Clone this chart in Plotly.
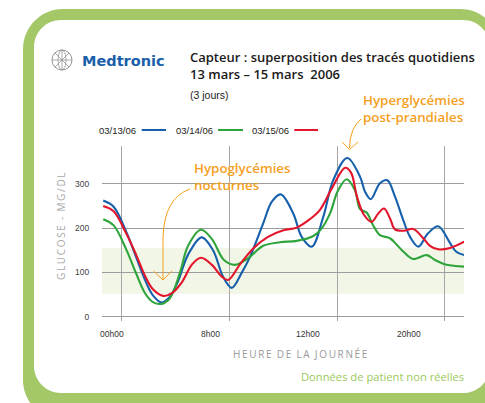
import plotly.graph_objects as go

# ---------------- data ----------------
days = ["03/13/06", "03/14/06", "03/15/06"]
day_colors = ["#1660ab", "#2ea43a", "#e3152b"]

hours_0313 = [-1.03, -0.45, 0.25, 0.80, 1.30, 1.74, 2.23, 2.69, 3.14, 3.70, 4.46, 5.09, 5.65, 6.13,
              6.70, 7.15, 7.89, 8.36, 8.86, 9.56, 10.03, 10.59, 11.23, 11.79, 12.57, 13.28, 13.56,
              13.88, 14.39, 14.80, 15.23, 15.69, 16.07, 16.53, 17.07, 17.64, 18.30, 18.63, 19.09]
glucose_0313 = [262, 248, 192, 135, 83, 48, 32, 45, 80, 140, 179, 150, 90, 65,
                100, 135, 211, 259, 276, 233, 180, 158, 225, 308, 358, 316, 282,
                265, 301, 308, 271, 218, 180, 158, 188, 204, 166, 147, 139]

hours_0314 = [-1.03, -0.45, 0.25, 0.80, 1.30, 1.74, 2.23, 2.69, 3.25, 3.70, 4.42, 5.03, 5.70, 6.31,
              7.04, 7.89, 8.82, 9.75, 10.68, 11.16, 11.61, 12.06, 12.54, 13.00, 13.28, 13.65,
              14.00, 14.39, 14.95, 15.34, 15.69, 16.25, 17.00, 17.46, 18.11, 19.09]
glucose_0314 = [220, 206, 152, 98, 53, 33, 29, 42, 100, 160, 196, 175, 128, 117,
                132, 160, 168, 171, 182, 200, 233, 285, 310, 285, 243, 235,
                207, 184, 177, 162, 147, 130, 139, 128, 117, 113]

hours_0315 = [-1.03, -0.45, 0.25, 0.80, 1.30, 1.74, 2.32, 2.80, 3.36, 3.92, 4.42, 5.03, 5.59, 5.94,
              6.59, 7.33, 8.15, 9.01, 9.75, 10.49, 11.05, 11.72, 12.45, 12.78, 13.11, 13.50,
              13.93, 14.28, 14.62, 14.95, 15.23, 15.73, 16.25, 16.74, 17.18, 17.64, 18.30, 19.09]
glucose_0315 = [250, 238, 188, 140, 92, 62, 47, 53, 78, 118, 133, 117, 90, 83,
                118, 154, 180, 195, 201, 220, 241, 290, 336, 325, 271, 230,
                214, 232, 244, 222, 197, 194, 198, 180, 160, 152, 155, 169]

series_hours = [hours_0313, hours_0314, hours_0315]
series_glucose = [glucose_0313, glucose_0314, glucose_0315]

target_low, target_high = 52, 155
y_tickvals = [0, 100, 200, 300]
x_gridvals = [0, 6, 12, 18]
x_ticklabels = ["00h00", "8h00", "12h00", "20h00"]
x_label_pos = [-0.54, 4.96, 10.38, 16.01]

X_RANGE = [-1.098, 19.076]
Y_RANGE = [-9.7, 385.1]

# ---------------- geometry helpers ----------------
W, H = 485, 403
ML, MR, MT, MB = 102, 21, 146, 82
PW, PH = W - ML - MR, H - MT - MB


def fx(x):
    return (x - ML) / PW


def fy(y):
    return (H - MB - y) / PH


def P(x, y):
    return f"{fx(x):.5f},{fy(y):.5f}"


def rrect(x0, y0, x1, y1, r):
    k = 0.5523 * r
    return (f"M {P(x0 + r, y0)} L {P(x1 - r, y0)} "
            f"C {P(x1 - r + k, y0)} {P(x1, y0 + r - k)} {P(x1, y0 + r)} "
            f"L {P(x1, y1 - r)} "
            f"C {P(x1, y1 - r + k)} {P(x1 - r + k, y1)} {P(x1 - r, y1)} "
            f"L {P(x0 + r, y1)} "
            f"C {P(x0 + r - k, y1)} {P(x0, y1 - r + k)} {P(x0, y1 - r)} "
            f"L {P(x0, y0 + r)} "
            f"C {P(x0, y0 + r - k)} {P(x0 + r - k, y0)} {P(x0 + r, y0)} Z")


fig = go.Figure()

for name, hrs, glu, col in zip(days, series_hours, series_glucose, day_colors):
    fig.add_trace(go.Scatter(x=hrs, y=glu, mode="lines", name=name,
                             line=dict(color=col, width=2.1, shape="spline", smoothing=1.0),
                             showlegend=False, hoverinfo="skip"))

shapes = []
# frame
shapes.append(dict(type="path", xref="paper", yref="paper", layer="below",
                   path=rrect(23, 9, 500, 420, 40), fillcolor="#a4c868", line=dict(width=0)))
shapes.append(dict(type="path", xref="paper", yref="paper", layer="below",
                   path=rrect(34, 20, 490, 393, 27), fillcolor="#ffffff", line=dict(width=0)))
shapes.append(dict(type="path", xref="paper", yref="paper", layer="below",
                   path=f"M {P(440, 46)} L {P(520, 46)} L {P(520, 367)} L {P(440, 367)} Z",
                   fillcolor="#ffffff", line=dict(width=0)))
# target band
shapes.append(dict(type="rect", xref="paper", yref="y", layer="below",
                   x0=0, x1=1, y0=target_low, y1=target_high,
                   fillcolor="#f1f6e6", line=dict(width=0)))

orange = "#f5a01e"
# hypo arrow
shapes.append(dict(type="path", xref="paper", yref="paper",
                   path=f"M {P(190, 189)} Q {P(164, 198)} {P(163, 238)} L {P(163, 279)}",
                   line=dict(color=orange, width=1)))
shapes.append(dict(type="path", xref="paper", yref="paper",
                   path=f"M {P(153.5, 271)} L {P(163, 280)} L {P(172, 271)}",
                   line=dict(color=orange, width=1)))
# hyper arrow
shapes.append(dict(type="path", xref="paper", yref="paper",
                   path=f"M {P(361, 119)} Q {P(350, 128)} {P(349.5, 148)}",
                   line=dict(color=orange, width=1)))
shapes.append(dict(type="path", xref="paper", yref="paper",
                   path=f"M {P(342, 142)} L {P(349.5, 149.5)} L {P(358, 142)}",
                   line=dict(color=orange, width=1)))

# legend line samples
legend_lines = [(141.7, 166), (218, 243), (294.3, 318)]
legend_text_right = [138, 214.5, 291]
for (a, b), col in zip(legend_lines, day_colors):
    shapes.append(dict(type="line", xref="paper", yref="paper",
                       x0=fx(a), x1=fx(b), y0=fy(130), y1=fy(130),
                       line=dict(color=col, width=2)))

# globe logo
gray = "#8a8a8a"
shapes.append(dict(type="circle", xref="paper", yref="paper",
                   x0=fx(52), x1=fx(72), y0=fy(50), y1=fy(70), line=dict(color=gray, width=0.9)))
shapes.append(dict(type="circle", xref="paper", yref="paper",
                   x0=fx(58), x1=fx(66), y0=fy(50), y1=fy(70), line=dict(color=gray, width=0.7)))
shapes.append(dict(type="path", xref="paper", yref="paper",
                   path=f"M {P(52, 60)} L {P(72, 60)} M {P(62, 50)} L {P(62, 70)} "
                        f"M {P(55, 53)} L {P(69, 67)} M {P(55, 67)} L {P(69, 53)}",
                   line=dict(color=gray, width=0.7)))

ann = []


def text(x, y, s, size, color, family, xanchor="left", weight=None, angle=0):
    f = dict(size=size, color=color, family=family)
    if weight is not None:
        f["weight"] = weight
    ann.append(dict(x=fx(x), y=fy(y), xref="paper", yref="paper", text=s, showarrow=False,
                    xanchor=xanchor, yanchor="middle", align="left", font=f, textangle=angle))


sans = "Open Sans"
arial = "Liberation Sans, Arial"

text(80, 61, "Medtronic", 14.5, "#1b5faa", "DejaVu Sans", weight="bold")
text(188, 65.5, "Capteur : superposition des tracés quotidiens<br>13 mars – 15 mars  2006",
     13, "#1a1a1a", sans, weight=600)
text(188, 95, "(3 jours)", 10.5, "#222222", arial)

for d, xr in zip(days, legend_text_right):
    text(xr, 130, d, 9.5, "#222222", arial, xanchor="right")

text(361, 108, "Hyperglycémies<br>post-prandiales", 13.3, orange, sans, weight=600)
text(192, 176.5, "Hypoglycémies<br>nocturnes", 13.3, orange, sans, weight=600)

thin = "\u2009"
text(61, 226, thin.join("GLUCOSE") + "  -  " + thin.join("MG/DL"), 10, "#aaaaaa", sans, xanchor="center", angle=-90)
text(300, 354, "  ".join(thin.join(w) for w in ["HEURE", "DE", "LA", "JOURNÉE"]), 10, "#9a9a9a", sans, xanchor="center")
text(466, 376, "Données de patient non réelles", 11.2, "#9dc85c", sans, xanchor="right")

for lab, xv in zip(x_ticklabels, x_label_pos):
    ann.append(dict(x=xv, y=fy(334), xref="x", yref="paper", text=lab, showarrow=False,
                    xanchor="center", yanchor="middle", font=dict(size=8.5, color="#333333", family=arial)))

fig.update_layout(
    width=W, height=H,
    margin=dict(l=ML, r=MR, t=MT, b=MB, pad=0),
    paper_bgcolor="white", plot_bgcolor="rgba(0,0,0,0)",
    shapes=shapes, annotations=ann, showlegend=False,
    xaxis=dict(range=X_RANGE, tickvals=x_gridvals, showticklabels=False, showgrid=True,
               gridcolor="#a6a6a6", gridwidth=1.4, zeroline=False, showline=False, fixedrange=True),
    yaxis=dict(range=Y_RANGE, tickvals=y_tickvals + [384], ticktext=[str(v) for v in y_tickvals] + [""],
               showgrid=True, gridcolor="#9c9c9c", gridwidth=1.4, zeroline=False, showline=False,
               ticks="outside", ticklen=10, tickcolor="rgba(0,0,0,0)",
               tickfont=dict(size=8.5, color="#444444", family=arial), fixedrange=True),
)

fig.write_html("out.html", config={"displayModeBar": False},
               post_script="document.body.style.margin='0';document.body.style.overflow='hidden';")
